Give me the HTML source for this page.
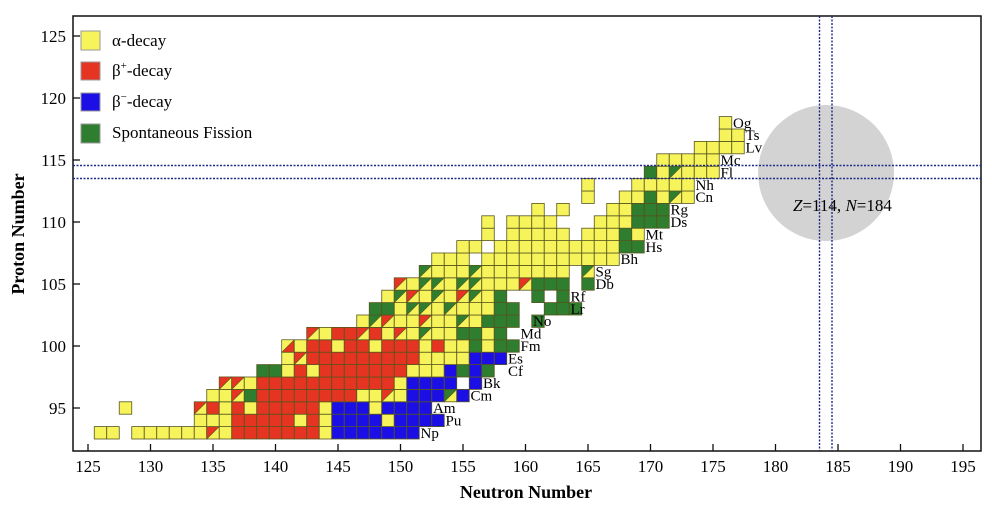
<!DOCTYPE html>
<html><head><meta charset="utf-8"><style>
html,body{margin:0;padding:0;background:#fff;width:992px;height:514px;overflow:hidden}
svg text{font-family:"Liberation Serif",serif}
</style></head><body>
<svg id="s" width="992" height="514" xmlns="http://www.w3.org/2000/svg">
<rect x="73" y="16" width="908" height="435" fill="#fff" stroke="#111" stroke-width="1.5"/>
<circle cx="826" cy="173" r="68" fill="#d3d3d3"/>
<g id="cells"></g>
<g stroke="#1e2a8a" stroke-width="1.4" stroke-dasharray="2,1.5" fill="none">
<line x1="73" y1="165.5" x2="981" y2="165.5"/><line x1="73" y1="178.5" x2="981" y2="178.5"/>
<line x1="819.5" y1="16" x2="819.5" y2="451"/><line x1="832" y1="16" x2="832" y2="451"/>
</g>
<text x="793" y="211" font-size="17"><tspan font-style="italic">Z</tspan>=114, <tspan font-style="italic">N</tspan>=184</text>
<g id="ticks"></g>
<g font-size="17">
<rect x="81" y="31" width="19" height="19" fill="#f7f35a" stroke="#999"/><text x="112" y="46">α-decay</text>
<rect x="81" y="62" width="19" height="18" fill="#e63422" stroke="#999"/><text x="112" y="76">β<tspan font-size="11" dy="-7">+</tspan><tspan dy="7">-decay</tspan></text>
<rect x="81" y="93" width="19" height="18" fill="#1c0fe6" stroke="#999"/><text x="112" y="107">β<tspan font-size="11" dy="-7">−</tspan><tspan dy="7">-decay</tspan></text>
<rect x="81" y="124" width="19" height="19" fill="#2f7d2f" stroke="#999"/><text x="112" y="138">Spontaneous Fission</text>
</g>
<text x="526" y="498" font-size="18" font-weight="bold" text-anchor="middle">Neutron Number</text>
<text transform="translate(24,234) rotate(-90)" font-size="18" font-weight="bold" text-anchor="middle">Proton Number</text>
</svg>
<script>
const X=n=>88+(n-125)*12.5, Y=z=>408-(z-95)*12.4;
const C={y:"#f7f35a",r:"#e63422",b:"#1c0fe6",g:"#2f7d2f"};
const rows={
93:[126,"yy.yyyyyycyrrrrrrrybbbbbbb"],
94:[134,"yyyrrrrryrybbbbybbbb"],
95:[128,"y.....cryryrrrrrybbbybbbb"],
96:[135,"yycgrrrrrrrryycybbbab"],
97:[136,"ccyrrrrrrrrrrrybbbb.b"],
98:[139,"ggyryrrrrrrryyybgbg"],
99:[141,"ycrrrrrrrrryyyybbb"],
100:[141,"dyrryrryrrryryygygg"],
101:[143,"cyrrcrycyayyggyg"],
102:[147,"yacyycyyayggg.g"],
103:[148,"ggyaayayyygg..ggg"],
104:[149,"yacyaycayg..g.g"],
105:[150,"cyaayaayyycggg.g"],
106:[152,"ayyyayyyyyyy.a"],
107:[153,"yyy.yyyyyyyyyyy"],
108:[155,"yy.yyyyyyyyyygg"],
109:[157,"y.yyyyy.yyygy"],
110:[157,"y.yyyy...yyyggg"],
111:[161,"y.y...yyggg"],
112:[165,"y..yygyay"],
113:[165,"y...yyyyy"],
114:[170,"gyayyy"],
115:[171,"yyyyy"],
116:[174,"yyyy"],
117:[176,"yy"],
118:[176,"y"]};
let h="";
for(const z in rows){const [s,str]=rows[z];for(let i=0;i<str.length;i++){const ch=str[i];if(ch=="."||ch==" ")continue;
const x=X(s+i)-6.25,y=Y(+z)-6.2,w=12.5,hh=12.4;
let base=ch=="a"||ch=="c"?"y":ch=="d"?"r":ch;
h+=`<rect x="${x}" y="${y}" width="${w}" height="${hh}" fill="${C[base]}" stroke="#55551e" stroke-width="0.8"/>`;
if(ch=="a"||ch=="c"||ch=="d"){const f=ch=="a"?C.g:ch=="c"?C.r:C.y;
h+=`<polygon points="${x},${y} ${x+w},${y} ${x},${y+hh}" fill="${f}" stroke="#55551e" stroke-width="0.6"/>`;}}}
const labs=[["Og",118,176],["Ts",117,177],["Lv",116,177],["Mc",115,175],["Fl",114,175],["Nh",113,173],["Cn",112,173],["Rg",111,171],["Ds",110,171],["Mt",109,169],["Hs",108,169],["Bh",107,167],["Sg",106,165],["Db",105,165],["Rf",104,163],["Lr",103,163],["No",102,160],["Md",101,159],["Fm",100,159],["Es",99,158],["Cf",98,158],["Bk",97,156],["Cm",96,155],["Am",95,152],["Pu",94,153],["Np",93,151]];
for(const [t,z,n] of labs)h+=`<text x="${X(n)+7.5}" y="${Y(z)+5}" font-size="15">${t}</text>`;
document.getElementById("cells").innerHTML=h;
let t="";
for(let n=125;n<=195;n+=5){const x=X(n);t+=`<line x1="${x}" y1="451" x2="${x}" y2="444" stroke="#111" stroke-width="1.3"/><text x="${x}" y="472" font-size="17" text-anchor="middle">${n}</text>`;}
for(let z=95;z<=125;z+=5){const y=Y(z);t+=`<line x1="73" y1="${y}" x2="80" y2="${y}" stroke="#111" stroke-width="1.3"/><text x="66" y="${y+6}" font-size="17" text-anchor="end">${z}</text>`;}
document.getElementById("ticks").innerHTML=t;
</script>
</body></html>
